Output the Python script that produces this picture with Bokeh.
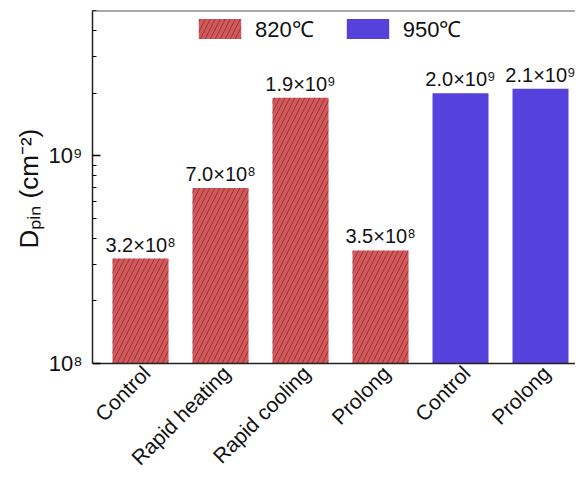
import math
from bokeh.plotting import figure
from bokeh.models import FixedTicker, Span, Legend, LegendItem, Range1d, Title
from bokeh.core.properties import value
from bokeh.embed import file_html
from bokeh.resources import INLINE

# ---- data ----
categories = ["Control", "Rapid heating", "Rapid cooling", "Prolong", "Control", "Prolong"]
cat_idx = [0, 1, 2, 3, 4, 5]
idx_820 = [0, 1, 2, 3]
vals_820 = [3.2e8, 7.0e8, 1.9e9, 3.5e8]
idx_950 = [4, 5]
vals_950 = [2.0e9, 2.1e9]
labels_820 = ["3.2×10⁸", "7.0×10⁸", "1.9×10⁹", "3.5×10⁸"]
labels_950 = ["2.0×10⁹", "2.1×10⁹"]
series_names = ["820℃", "950℃"]
y_major = [1e8, 1e9]
y_major_labels = ["10⁸", "10⁹"]
y_minor = [2e8, 3e8, 4e8, 5e8, 6e8, 7e8, 8e8, 9e8, 2e9, 3e9, 4e9, 5e9]
y_axis_min, y_axis_max = 1e8, 5e9
y_title = "Dₚᵢₙ (cm⁻²)"

RED = "#d6575a"
BLUE = "#5542dc"
FONT = "Liberation Sans"
W, H = 575, 471

# frame spans to the bottom of the canvas so the rotated category labels fit;
# the value axis starts at 1e8 (axis line placed there)
px_per_decade = (363 - 10) / math.log10(y_axis_max / y_axis_min)
y_start = y_axis_min / 10 ** ((H - 363) / px_per_decade)

p = figure(width=W, height=H, y_axis_type="log",
           x_range=Range1d(-0.6, 5.4375), y_range=Range1d(y_start, y_axis_max),
           output_backend="svg", toolbar_location=None)
p.min_border_left = 92
p.min_border_top = 10
p.min_border_bottom = 0
p.min_border_right = 0
p.outline_line_color = None
p.background_fill_color = "white"
p.xgrid.visible = False
p.ygrid.visible = False

r1 = p.vbar(x=idx_820, top=vals_820, bottom=y_axis_min, width=0.7, fill_color=RED,
            line_color=None, hatch_pattern="/", hatch_scale=10, hatch_weight=0.6,
            hatch_color="#3a2424", hatch_alpha=0.85)
r2 = p.vbar(x=idx_950, top=vals_950, bottom=y_axis_min, width=0.7, fill_color=BLUE,
            line_color=None)

for xs, ys, ts in [(idx_820, vals_820, labels_820), (idx_950, vals_950, labels_950)]:
    p.text(x=xs, y=ys, text=ts, text_align="center", text_baseline="bottom",
           y_offset=-3, text_font=value(FONT), text_font_size="20px",
           text_color="#111111")

# category labels, rotated 45 degrees under the axis line
p.text(x=cat_idx, y=[y_axis_min] * len(cat_idx), text=categories, angle=math.pi / 4,
       text_align="right", text_baseline="middle", x_offset=6, y_offset=6,
       text_font=value(FONT), text_font_size="21px", text_color="#111111")

legend = Legend(items=[LegendItem(label=series_names[0], renderers=[r1]),
                       LegendItem(label=series_names[1], renderers=[r2])],
                location=(101, 428), orientation="horizontal")
legend.padding = 0
legend.margin = 0
legend.border_line_color = None
legend.background_fill_alpha = 0
legend.glyph_width = 53
legend.glyph_height = 25
legend.spacing = 27
legend.label_standoff = 9
legend.label_text_font = FONT
legend.label_text_font_size = "22px"
legend.label_text_color = "#111111"
p.add_layout(legend, "center")

# top frame line
p.add_layout(Span(location=y_axis_max, dimension="width", line_color="#555555", line_width=2))

# x axis: line only at y = 1e8
xa = p.xaxis[0]
xa.fixed_location = y_axis_min
xa.ticker = FixedTicker(ticks=[])
xa.major_label_standoff = 0
xa.major_tick_in = 0
xa.major_tick_out = 0
xa.minor_tick_in = 0
xa.minor_tick_out = 0
xa.major_tick_line_color = None
xa.minor_tick_line_color = None
xa.axis_line_color = "#222222"
xa.axis_line_width = 1.5

# y axis
ya = p.yaxis[0]
ya.bounds = (y_axis_min, y_axis_max)
ya.ticker = FixedTicker(ticks=y_major, minor_ticks=y_minor)
ya.major_label_overrides = {int(v): t for v, t in zip(y_major, y_major_labels)}
ya.major_label_text_font = FONT
ya.major_label_text_font_size = "22px"
ya.major_label_text_color = "#111111"
ya.major_tick_in = 8
ya.major_tick_out = 0
ya.minor_tick_in = 4
ya.minor_tick_out = 0
ya.axis_line_color = "#222222"
ya.axis_line_width = 1.5
ya.major_tick_line_width = 1.5
ya.major_label_standoff = 10

# y title, starting part-way up the frame so it sits beside the value axis
t = Title(text=y_title, align="left", offset=223, standoff=4,
          text_font=FONT, text_font_size="26px", text_font_style="normal",
          text_color="#111111")
p.add_layout(t, "left")

open("out.html", "w").write(file_html(p, INLINE))
